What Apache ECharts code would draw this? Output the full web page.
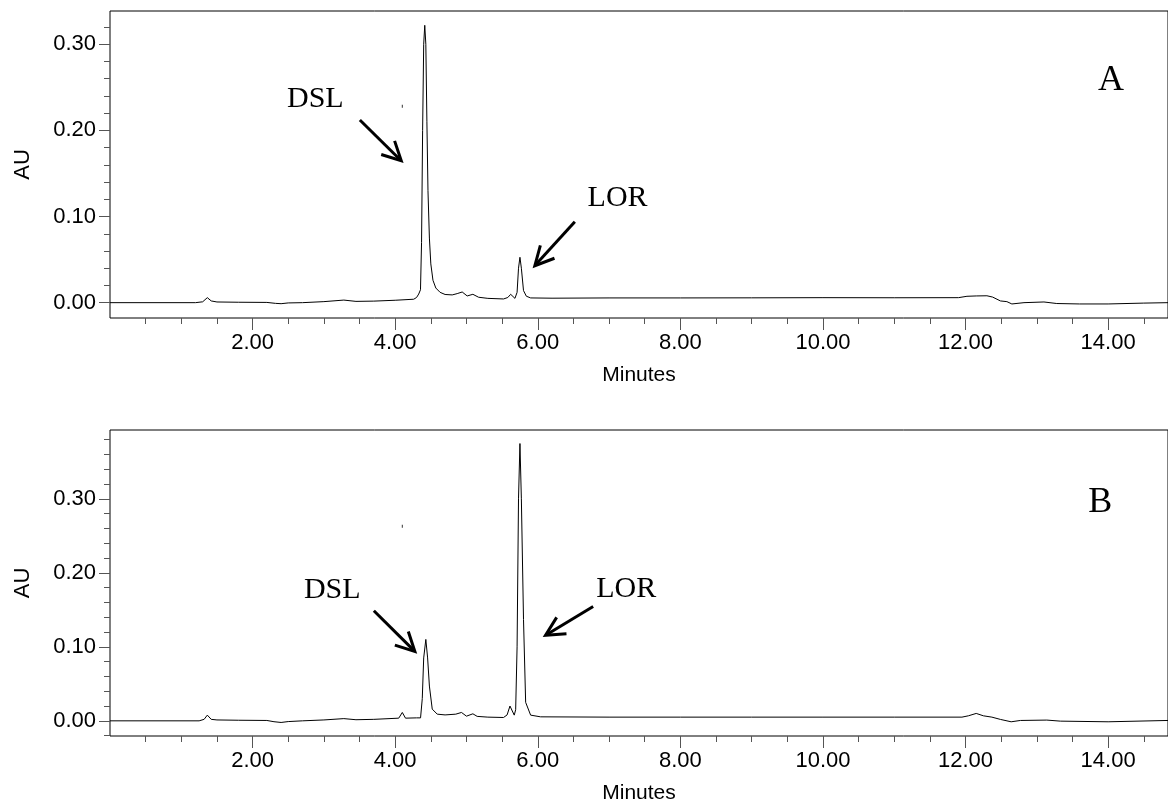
<!DOCTYPE html>
<html>
<head>
<meta charset="utf-8">
<script src="https://cdn.jsdelivr.net/npm/echarts@6/dist/echarts.min.js"></script>
<style>
  html, body { margin: 0; padding: 0; background: #fff; }
  #chart { width: 1168px; height: 805px; }
</style>
</head>
<body>
<div id="chart"></div>
<script>
// Chromatogram A: retention time (min) and absorbance (AU)
const timeA = [0.00, 1.20, 1.30, 1.365, 1.42, 1.50, 1.80, 2.20, 2.32, 2.40, 2.50, 2.70, 3.00, 3.28, 3.45, 3.70, 4.00, 4.26,
  4.30, 4.33, 4.355, 4.37, 4.385, 4.40, 4.415, 4.43, 4.445, 4.46, 4.48, 4.50, 4.53, 4.57, 4.63, 4.70, 4.80, 4.87, 4.94,
  5.01, 5.09, 5.17, 5.30, 5.52, 5.58, 5.62, 5.68, 5.71, 5.73, 5.75, 5.77, 5.80, 5.84, 5.90, 6.20, 7.00, 8.00, 9.00,
  10.00, 11.00, 11.90, 12.02, 12.15, 12.30, 12.38, 12.49, 12.58, 12.65, 12.82, 13.10, 13.28, 13.60, 14.00, 14.50, 14.84];
const auA = [0.000, 0.000, 0.001, 0.0058, 0.002, 0.0008, 0.0005, 0.0003, -0.0008, -0.0012, -0.0003, 0.000, 0.0012, 0.003, 0.0015, 0.0018, 0.0028, 0.004,
  0.006, 0.010, 0.015, 0.070, 0.200, 0.300, 0.322, 0.300, 0.210, 0.130, 0.075, 0.045, 0.026, 0.017, 0.012, 0.0095, 0.009, 0.0105, 0.0124,
  0.0078, 0.0097, 0.0063, 0.005, 0.0043, 0.006, 0.0097, 0.005, 0.012, 0.040, 0.0527, 0.040, 0.014, 0.0075, 0.0055, 0.0052, 0.0055, 0.0055, 0.0056,
  0.0058, 0.0057, 0.0058, 0.0074, 0.0078, 0.0080, 0.0065, 0.002, 0.0012, -0.0015, 0.000, 0.0008, -0.001, -0.0015, -0.0015, -0.0005, 0.000];

// Chromatogram B
const timeB = [0.00, 1.25, 1.32, 1.365, 1.42, 1.50, 1.80, 2.20, 2.30, 2.40, 2.50, 2.70, 3.00, 3.28, 3.45, 3.70, 4.05, 4.10, 4.145,
  4.30, 4.356, 4.38, 4.40, 4.43, 4.455, 4.48, 4.52, 4.59, 4.70, 4.85, 4.93, 5.00, 5.09, 5.15, 5.30, 5.52, 5.57, 5.61, 5.67,
  5.69, 5.71, 5.73, 5.75, 5.77, 5.80, 5.83, 5.90, 6.04, 7.00, 8.00, 9.00, 10.00, 11.00, 11.95, 12.04, 12.15, 12.25, 12.37,
  12.49, 12.64, 12.77, 13.14, 13.33, 14.00, 14.84];
const auB = [0.000, 0.000, 0.002, 0.0077, 0.002, 0.0012, 0.0008, 0.0005, -0.0012, -0.0022, -0.001, 0.000, 0.0012, 0.003, 0.0015, 0.002, 0.0036, 0.0113, 0.0036,
  0.004, 0.004, 0.030, 0.085, 0.110, 0.085, 0.047, 0.0158, 0.009, 0.008, 0.009, 0.0113, 0.0063, 0.0095, 0.006, 0.005, 0.0045, 0.008, 0.020, 0.0077,
  0.015, 0.100, 0.300, 0.3747, 0.300, 0.137, 0.025, 0.0077, 0.0054, 0.005, 0.005, 0.005, 0.005, 0.005, 0.005, 0.0068, 0.010, 0.0068, 0.005,
  0.0019, -0.0013, 0.0005, 0.001, -0.0004, -0.0013, 0.0005];

// Axis ticks
const xMajorTicks = [2, 4, 6, 8, 10, 12, 14];
const xMinorTicks = [0.5, 1, 1.5, 2.5, 3, 3.5, 4.5, 5, 5.5, 6.5, 7, 7.5, 8.5, 9, 9.5, 10.5, 11, 11.5, 12.5, 13, 13.5, 14.5];
const yMajorTicks = [0, 0.1, 0.2, 0.3];
const yMinorTicksA = [0.02, 0.04, 0.06, 0.08, 0.12, 0.14, 0.16, 0.18, 0.22, 0.24, 0.26, 0.28, 0.32];
const yMinorTicksB = [-0.02, 0.02, 0.04, 0.06, 0.08, 0.12, 0.14, 0.16, 0.18, 0.22, 0.24, 0.26, 0.28, 0.32, 0.34, 0.36, 0.38];

const SANS = 'Liberation Sans, Arial, sans-serif';
const SERIF = 'Liberation Serif, Times New Roman, serif';
const TICK_COLOR = '#555';

const panels = [
  { time: timeA, au: auA, yMin: -0.0178, yMax: 0.3386, yMinor: yMinorTicksA, grid: { left: 110, right: 0, top: 11, bottom: 487 } },
  { time: timeB, au: auB, yMin: -0.0205, yMax: 0.393, yMinor: yMinorTicksB, grid: { left: 110, right: 0, top: 430, bottom: 68 } }
];

// Peak annotations, in axis units
const notes = [
  { panel: 0, text: 'DSL', at: [2.88, 0.236], from: [3.505, 0.212], to: [4.085, 0.1647] },
  { panel: 0, text: 'LOR', at: [7.12, 0.121], from: [6.52, 0.094], to: [5.959, 0.0429] },
  { panel: 1, text: 'DSL', at: [3.117, 0.1762], from: [3.701, 0.1488], to: [4.276, 0.0937] },
  { panel: 1, text: 'LOR', at: [7.24, 0.1782], from: [6.777, 0.1544], to: [6.109, 0.1157] }
];
const panelTags = [
  { panel: 0, text: 'A', at: [14.04, 0.258] },
  { panel: 1, text: 'B', at: [13.89, 0.295] }
];

const grids = [], xAxes = [], yAxes = [], series = [];
panels.forEach((p, i) => {
  grids.push(Object.assign({ show: true, borderColor: '#000', borderWidth: 1, backgroundColor: 'transparent' }, p.grid));
  // major x axis with labels
  xAxes.push({
    type: 'value', gridIndex: i, min: 0, max: 14.84, position: 'bottom',
    axisLine: { show: false, onZero: false },
    splitLine: { show: false },
    axisTick: { show: true, inside: false, customValues: xMajorTicks, length: 12, lineStyle: { color: TICK_COLOR, width: 1 } },
    axisLabel: { customValues: xMajorTicks, formatter: v => v.toFixed(2), color: '#000', fontFamily: SANS, fontSize: 22, margin: 14 },
    name: 'Minutes', nameLocation: 'middle', nameGap: 47,
    nameTextStyle: { color: '#000', fontFamily: SANS, fontSize: 21 }
  });
  // minor x ticks
  xAxes.push({
    type: 'value', gridIndex: i, min: 0, max: 14.84, position: 'bottom', offset: 0,
    axisLine: { show: false, onZero: false }, splitLine: { show: false },
    axisTick: { show: true, inside: false, customValues: xMinorTicks, length: 6, lineStyle: { color: TICK_COLOR, width: 1 } },
    axisLabel: { show: false }
  });
  yAxes.push({
    type: 'value', gridIndex: i, min: p.yMin, max: p.yMax, position: 'left',
    axisLine: { show: false, onZero: false }, splitLine: { show: false },
    axisTick: { show: true, inside: false, customValues: yMajorTicks, length: 11, lineStyle: { color: TICK_COLOR, width: 1 } },
    axisLabel: { customValues: yMajorTicks, formatter: v => v.toFixed(2), color: '#000', fontFamily: SANS, fontSize: 22, margin: 14 },
    name: 'AU', nameLocation: 'middle', nameGap: 76, nameRotate: 90,
    nameTextStyle: { color: '#000', fontFamily: SANS, fontSize: 22 }
  });
  yAxes.push({
    type: 'value', gridIndex: i, min: p.yMin, max: p.yMax, position: 'left', offset: 0,
    axisLine: { show: false, onZero: false }, splitLine: { show: false },
    axisTick: { show: true, inside: false, customValues: p.yMinor, length: 6, lineStyle: { color: TICK_COLOR, width: 1 } },
    axisLabel: { show: false }
  });
  series.push({
    type: 'line', xAxisIndex: i * 2, yAxisIndex: i * 2,
    data: p.time.map((t, k) => [t, p.au[k]]),
    showSymbol: false, symbol: 'none', smooth: false,
    lineStyle: { color: '#000', width: 1 },
    silent: true
  });
});

const chart = echarts.init(document.getElementById('chart'), null, { renderer: 'canvas' });
chart.setOption({
  animation: false,
  backgroundColor: '#fff',
  grid: grids, xAxis: xAxes, yAxis: yAxes, series: series
});

function toPx(panel, pt) {
  return chart.convertToPixel({ xAxisIndex: panel * 2, yAxisIndex: panel * 2 }, pt);
}

const graphics = [];
notes.forEach(n => {
  const c = toPx(n.panel, n.at);
  graphics.push({ type: 'text', x: c[0], y: c[1], style: { text: n.text, fill: '#000', font: '30px ' + SERIF, textAlign: 'center', textVerticalAlign: 'middle' } });
  const a = toPx(n.panel, n.from), b = toPx(n.panel, n.to);
  const dx = a[0] - b[0], dy = a[1] - b[1], len = Math.hypot(dx, dy);
  const ux = dx / len, uy = dy / len, L = 21, th = 27 * Math.PI / 180;
  const rot = s => [b[0] + L * (ux * Math.cos(s * th) - uy * Math.sin(s * th)), b[1] + L * (ux * Math.sin(s * th) + uy * Math.cos(s * th))];
  graphics.push({ type: 'line', shape: { x1: a[0], y1: a[1], x2: b[0] + ux * 1.5, y2: b[1] + uy * 1.5 }, style: { stroke: '#000', lineWidth: 3 } });
  graphics.push({ type: 'polyline', shape: { points: [rot(1), b, rot(-1)] }, style: { stroke: '#000', lineWidth: 3, fill: null, lineJoin: 'miter' } });
});
panelTags.forEach(t => {
  const c = toPx(t.panel, t.at);
  graphics.push({ type: 'text', x: c[0], y: c[1], style: { text: t.text, fill: '#000', font: '36px ' + SERIF, textAlign: 'center', textVerticalAlign: 'middle' } });
});
// small stray marks above the DSL peak
[[0, [4.10, 0.228]], [1, [4.10, 0.263]]].forEach(m => {
  const c = toPx(m[0], m[1]);
  graphics.push({ type: 'rect', shape: { x: c[0] - 0.5, y: c[1] - 1.5, width: 1, height: 3 }, style: { fill: '#333' } });
});
chart.setOption({ graphic: graphics });
</script>
</body>
</html>
